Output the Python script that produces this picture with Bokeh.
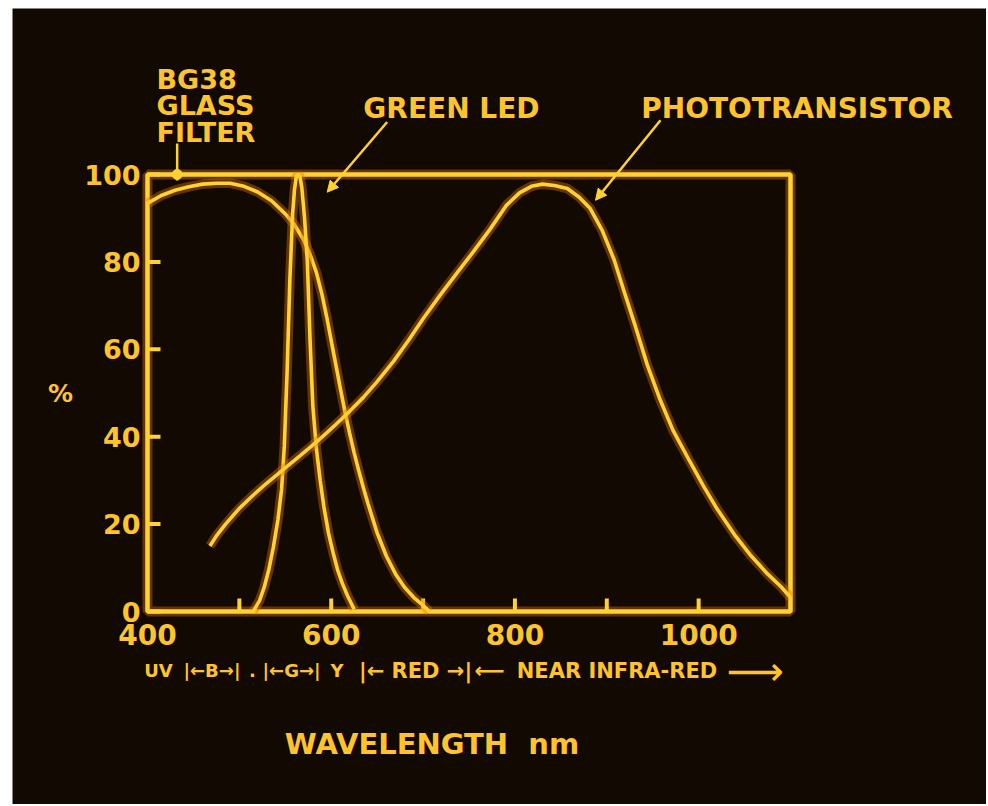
from bokeh.plotting import figure
from bokeh.models import Range1d, Arrow, NormalHead
from bokeh.embed import file_html
from bokeh.resources import INLINE
from bokeh.core.properties import value

# ---------------- data ----------------
bg38_nm = [400, 415, 430, 445, 460, 475, 490, 505, 520, 535, 550, 560, 570, 577,
           584, 590, 595, 600, 605, 610, 615, 620, 625, 630, 635, 640, 650, 660,
           670, 680, 690, 700, 707]
bg38_pct = [93.4, 95.2, 96.4, 97.2, 97.8, 98.0, 98.0, 97.3, 96.0, 94.0, 91.0, 88.5,
            85.0, 81.7, 77.5, 72.5, 67.5, 62.0, 56.5, 51.0, 45.7, 40.8, 36.3, 32.2,
            28.3, 24.7, 18.0, 12.7, 8.6, 5.5, 3.2, 1.4, 0.0]

led_nm = [515, 522, 527, 532, 537, 542, 546, 549, 552, 555, 558, 560, 562, 564,
          566, 568, 571, 574, 577, 580, 584, 588, 592, 597, 602, 607, 612, 618, 625]
led_pct = [0.0, 2.5, 5.5, 9.5, 14.7, 21.0, 28.0, 38.0, 55.0, 76.0, 91.0, 96.5,
           99.5, 100.0, 99.5, 97.0, 90.0, 80.0, 62.0, 47.0, 37.0, 30.0, 24.0,
           18.0, 13.5, 9.5, 6.5, 3.5, 0.5]

pt_nm = [468, 475, 485, 500, 515, 530, 545, 560, 575, 590, 605, 620, 635, 650,
         668, 685, 700, 719, 737, 755, 773, 791, 805, 818, 830, 843, 857, 870,
         882, 895, 908, 920, 930, 944, 958, 972, 990, 1005, 1020, 1040, 1056,
         1075, 1090, 1100]
pt_pct = [15.0, 17.3, 20.0, 23.6, 26.6, 29.4, 32.0, 34.6, 37.2, 39.9, 42.8, 45.8,
          49.0, 52.6, 57.3, 62.3, 67.0, 72.5, 77.5, 82.4, 87.5, 93.0, 95.8, 97.3,
          97.8, 97.5, 96.8, 94.8, 92.2, 87.2, 80.5, 72.5, 66.0, 56.5, 48.5, 41.5,
          34.5, 28.8, 23.5, 17.3, 13.0, 8.6, 5.6, 3.2]

x_limits = [400, 1100]
y_limits = [0, 100]
x_tick_labels = ["400", "600", "800", "1000"]
x_tick_values = [400, 600, 800, 1000]
x_all_ticks = [500, 600, 700, 800, 900, 1000]
y_tick_values = [0, 20, 40, 60, 80, 100]
y_tick_labels = ["0", "20", "40", "60", "80", "100"]

band_short_labels = ["UV", "|←B→|", ".", "|←G→|", "Y"]
band_short_centers_nm = [412.0, 470.2, 514.3, 556.8, 606.3]
band_long_labels = ["|← RED →|", "⟵", "NEAR INFRA-RED"]
band_long_centers_nm = [691.8, 772.3, 911.1]
band_arrow_label = "⟶"
band_arrow_center_nm = 1061.9

filter_lines = ["BG38", "GLASS", "FILTER"]
filter_line_y = [121.7, 115.8, 109.7]
filter_text_x = 409.8
filter_leader_x = 432.3
filter_leader_y = [107.1, 98.6]

callout_texts = ["GREEN LED", "PHOTOTRANSISTOR"]
callout_x = [730.9, 1107.1]
callout_y = [115.2, 115.1]
callout_from_x = [660.9, 958.5]
callout_from_y = [112.0, 112.4]
callout_to_x = [595.6, 887.7]
callout_to_y = [95.95, 94.1]

# ---------------- layout / styles ----------------
W, H = 986, 804
FRAME_L, FRAME_R, FRAME_T, FRAME_B = 147, 790, 174, 611   # pixel frame of the chart box
PHOTO_L, PHOTO_T = 12, 8                                   # dark photo starts here
KX = (FRAME_R - FRAME_L) / (x_limits[1] - x_limits[0])    # px per nm
KY = (FRAME_B - FRAME_T) / (y_limits[1] - y_limits[0])    # px per %

BG = "#130903"
CORE = "#ffd233"
GLOW = "#e07800"
TXT = "#ffc42c"
FONT = "DejaVu Sans"

xr = Range1d(x_limits[0] - FRAME_L / KX, x_limits[0] + (W - FRAME_L) / KX)
yr = Range1d(y_limits[0] - (H - FRAME_B) / KY, y_limits[0] + FRAME_B / KY)
p = figure(width=W, height=H, x_range=xr, y_range=yr,
           output_backend="svg", toolbar_location=None, min_border=0)
p.axis.visible = False
p.grid.visible = False
p.outline_line_color = None
p.background_fill_color = "#ffffff"
p.border_fill_color = "#ffffff"

# dark photo area
p.quad(left=xr.start + PHOTO_L / KX, right=xr.end, bottom=yr.start,
       top=yr.end - PHOTO_T / KY, fill_color=BG, line_color=None)


def glow_line(xs, ys, w=3.6):
    p.line(xs, ys, line_width=w + 6, color=GLOW, alpha=0.4)
    p.line(xs, ys, line_width=w, color=CORE)


def txt(xs, ys, labels, size, align="center", style="bold"):
    p.text(x=xs, y=ys, text=labels, text_align=align, text_baseline="middle",
           text_color=TXT, text_font=value(FONT), text_font_style=style,
           text_font_size=size)


# chart box
for lw, col, al in ((10, GLOW, 0.4), (4.5, CORE, 1.0)):
    p.quad(left=x_limits[0], right=x_limits[1], bottom=y_limits[0], top=y_limits[1],
           fill_alpha=0, line_color=col, line_width=lw, line_alpha=al)

# ticks (inward)
tick_len_y = 13 / KY
tick_len_x = 13 / KX
p.segment(x0=x_all_ticks, y0=[y_limits[0]] * len(x_all_ticks), x1=x_all_ticks,
          y1=[y_limits[0] + tick_len_y] * len(x_all_ticks), line_color=CORE, line_width=4)
p.segment(x0=[x_limits[0]] * len(y_tick_values), y0=y_tick_values,
          x1=[x_limits[0] + tick_len_x] * len(y_tick_values), y1=y_tick_values,
          line_color=CORE, line_width=4)

# tick labels
txt(x_tick_values, [y_limits[0] - 23 / KY] * len(x_tick_values), x_tick_labels, "28px")
txt([x_limits[0] - 7 / KX] * len(y_tick_values), y_tick_values, y_tick_labels, "27px",
    align="right")

# curves
glow_line(bg38_nm, bg38_pct)
glow_line(led_nm, led_pct)
glow_line(pt_nm, pt_pct)

# BG38 callout
txt([filter_text_x] * 3, filter_line_y, filter_lines, "27px", align="left")
p.segment(x0=[filter_leader_x], y0=[filter_leader_y[0]], x1=[filter_leader_x],
          y1=[filter_leader_y[1]], line_color=CORE, line_width=2.5)
p.scatter([filter_leader_x], [y_limits[1]], size=10, color=CORE)

# other callouts
txt(callout_x, callout_y, callout_texts, "28px")
for x0, y0, x1, y1 in zip(callout_from_x, callout_from_y, callout_to_x, callout_to_y):
    p.add_layout(Arrow(end=NormalHead(size=11, fill_color=CORE, line_color=CORE),
                       x_start=x0, y_start=y0, x_end=x1, y_end=y1,
                       line_color=CORE, line_width=2.5))

# spectral band row
band_y = y_limits[0] - 59 / KY
txt(band_short_centers_nm, [band_y] * len(band_short_labels), band_short_labels, "18px")
txt(band_long_centers_nm, [band_y] * len(band_long_labels), band_long_labels, "21px")
txt([band_arrow_center_nm], [band_y], [band_arrow_label], "40px", style="normal")

# axis titles
txt([x_limits[0] - 87 / KX], [(y_limits[0] + y_limits[1]) / 2], ["%"], "25px")
txt([x_limits[0] + (431.5 - FRAME_L) / KX], [y_limits[0] - 132.5 / KY],
    ["WAVELENGTH\u00a0\u00a0nm"], "29px")

open("out.html", "w").write(file_html(p, INLINE))
